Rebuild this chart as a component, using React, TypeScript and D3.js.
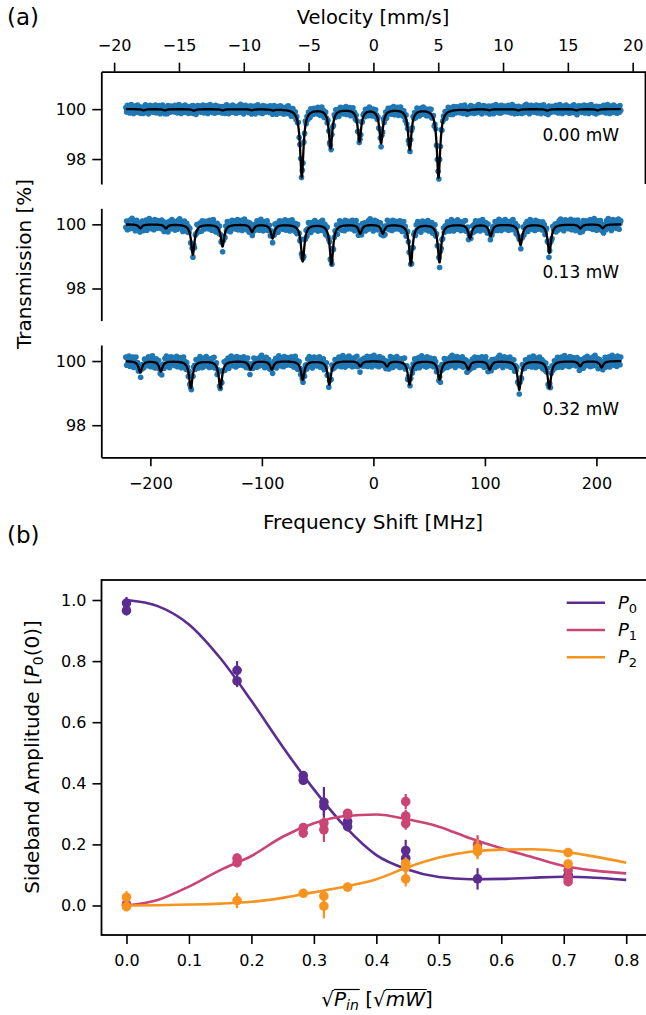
import React, { useEffect, useRef } from "react";
import * as d3 from "d3";

// ---------- panel (a): transmission spectra ----------
const powerLabels = ["0.00 mW", "0.13 mW", "0.32 mW"];

// dip centres [MHz] and depths [%]
const dips000Center = [-64.2, -38.4, -12.5, 6.9, 32.6, 58.4, -206, -187, -161, -135, -109, -90, 85, 104, 130, 156, 182, 201];
const dips000Depth = [2.72, 1.55, 1.28, 1.35, 1.62, 2.74, 0.05, 0.05, 0.06, 0.05, 0.04, 0.04, 0.04, 0.04, 0.05, 0.06, 0.05, 0.05];

const dips013Center = [-209, -186, -161.9, -135.3, -108.8, -90.4, -63.4, -37.6, -11.8, 8.5, 33.6, 59.3, 86.6, 105.1, 132, 157.8, 185.5, 205.7];
const dips013Depth = [0.12, 0.12, 0.94, 0.69, 0.23, 0.43, 1.15, 1.25, 0.28, 0.28, 1.25, 1.18, 0.43, 0.36, 0.64, 0.89, 0.12, 0.12];

const dips032Center = [-209, -190.6, -163.7, -137.2, -110.2, -91.1, -63.4, -39.5, -11.8, 12.2, 32.4, 59.3, 85.2, 104.3, 130.8, 157.8, 185.4, 204.6];
const dips032Depth = [0.35, 0.32, 0.84, 0.84, 0.26, 0.26, 0.58, 0.73, 0.16, 0.16, 0.73, 0.58, 0.26, 0.26, 0.89, 0.84, 0.16, 0.2];

const dipFwhm = 3.6; // MHz
const channelStart = -222;
const channelEnd = 222;
const channelStep = 0.7;

// scatter of the measured points about the fit [%]
const residuals = [0.07, -0.11, 0.16, -0.04, 0.12, -0.15, 0.03, 0.19, -0.08, 0.09, -0.17, 0.05, 0.13, -0.03, -0.12, 0.17, 0.01, -0.09, 0.11, -0.16, 0.08, 0.04, -0.13, 0.15, -0.05, 0.2, -0.11, 0.0, 0.12, -0.18, 0.07, 0.16, -0.07, -0.01, 0.13, -0.12, 0.09, -0.04, 0.17, -0.15, 0.03, 0.11, -0.08, 0.15, -0.17, 0.05, -0.03, 0.19, -0.09, 0.08, -0.13, 0.12, 0.04, -0.16, 0.16, -0.05, 0.01, -0.11, 0.13, -0.07, 0.09];

const freqTicks = [-200, -100, 0, 100, 200];
const velocityTicks = [-20, -15, -10, -5, 0, 5, 10, 15, 20];
const transTicks = [98, 100];
const mhzPerMmS = 11.6248;

// ---------- panel (b): sideband amplitudes ----------
const p0X = [0, 0, 0.177, 0.177, 0.283, 0.283, 0.316, 0.316, 0.354, 0.354, 0.447, 0.447, 0.562, 0.707, 0.707];
const p0Y = [0.99, 0.965, 0.77, 0.735, 0.425, 0.41, 0.338, 0.325, 0.275, 0.258, 0.18, 0.155, 0.087, 0.1, 0.095];
const p0Err = [0.02, 0.015, 0.03, 0.02, 0.015, 0.015, 0.05, 0.03, 0.015, 0.015, 0.035, 0.03, 0.035, 0.02, 0.02];

const p1X = [0, 0, 0.177, 0.177, 0.283, 0.283, 0.316, 0.316, 0.354, 0.354, 0.447, 0.447, 0.447, 0.562, 0.707, 0.707, 0.707];
const p1Y = [0.005, 0, 0.155, 0.14, 0.255, 0.237, 0.27, 0.248, 0.302, 0.296, 0.34, 0.293, 0.268, 0.2, 0.115, 0.09, 0.078];
const p1Err = [0.01, 0.01, 0.015, 0.015, 0.015, 0.015, 0.02, 0.04, 0.01, 0.01, 0.025, 0.02, 0.02, 0.03, 0.02, 0.015, 0.015];

const p2X = [0, 0, 0.177, 0.283, 0.316, 0.316, 0.354, 0.447, 0.447, 0.447, 0.562, 0.562, 0.707, 0.707];
const p2Y = [0.027, -0.004, 0.016, 0.04, 0.031, -0.002, 0.06, 0.138, 0.125, 0.087, 0.187, 0.176, 0.173, 0.136];
const p2Err = [0.02, 0.015, 0.025, 0.01, 0.02, 0.04, 0.01, 0.02, 0.02, 0.025, 0.03, 0.025, 0.01, 0.015];

// fitted curves read at these abscissae
const fitX = [0, 0.05, 0.1, 0.15, 0.2, 0.25, 0.3, 0.35, 0.4, 0.45, 0.5, 0.55, 0.6, 0.65, 0.7, 0.75, 0.8];
const p0Fit = [1.0, 0.98, 0.92, 0.81, 0.67, 0.52, 0.38, 0.258, 0.165, 0.118, 0.093, 0.086, 0.087, 0.091, 0.094, 0.091, 0.084];
const p1Fit = [0, 0.018, 0.062, 0.116, 0.162, 0.225, 0.269, 0.293, 0.298, 0.282, 0.258, 0.22, 0.187, 0.158, 0.129, 0.114, 0.105];
const p2Fit = [0, 0.001, 0.003, 0.006, 0.012, 0.025, 0.043, 0.062, 0.086, 0.125, 0.157, 0.176, 0.183, 0.184, 0.176, 0.16, 0.14];

const sqrtTicks = [0, 0.1, 0.2, 0.3, 0.4, 0.5, 0.6, 0.7, 0.8];
const ampTicks = [0, 0.2, 0.4, 0.6, 0.8, 1.0];

const seriesNames = ["0", "1", "2"];
const seriesColors = ["#5c2d91", "#cb4574", "#f7931f"];

const FONT = "DejaVu Sans";

const App = () => {
  const svgRef = useRef<SVGSVGElement>(null);

  useEffect(() => {
    const svg = d3.select(svgRef.current);
    svg.selectAll("*").remove();

    const styleAxis = (g: any, fontSize = 16) => {
      g.select(".domain").attr("stroke", "#000").attr("stroke-width", 1.8);
      g.selectAll(".tick line").attr("stroke", "#000").attr("stroke-width", 1.6);
      g.selectAll(".tick text").attr("fill", "#000").style("font-size", `${fontSize}px`).style("font-family", FONT);
    };

    // ===== panel (a) =====
    const aLeft = 101.3;
    const aRight = 645.5;
    const x = d3.scaleLinear().domain([-244, 244]).range([aLeft, aRight]);
    const panelTops = [71.7, 208.3, 345];
    const panelH = 112.3;
    const yDomains = [[97, 101.5], [97, 100.5], [97, 100.5]];
    const dipSets = [
      [dips000Center, dips000Depth],
      [dips013Center, dips013Depth],
      [dips032Center, dips032Depth],
    ];
    const hw = dipFwhm / 2;

    panelTops.forEach((top, k) => {
      const y = d3.scaleLinear().domain(yDomains[k]).range([top + panelH, top]);
      const [centers, depths] = dipSets[k];
      const model = (f: number) =>
        100 - d3.sum(centers, (c, i) => depths[i] / (1 + ((f - c) / hw) ** 2));

      const channels = d3.range(channelStart, channelEnd + 1e-6, channelStep);
      const pts = channels.map((f, i) => [f, model(f) + residuals[(i + k * 17) % residuals.length]]);
      const fine = d3.range(channelStart, channelEnd + 1e-6, 0.2).map((f) => [f, model(f)]);

      const g = svg.append("g");
      g.selectAll("circle")
        .data(pts)
        .join("circle")
        .attr("cx", (d) => x(d[0]))
        .attr("cy", (d) => y(d[1]))
        .attr("r", 2.8)
        .attr("fill", "#1f77b4");

      g.append("path")
        .datum(fine)
        .attr("fill", "none")
        .attr("stroke", "#000")
        .attr("stroke-width", 2.3)
        .attr("stroke-linejoin", "round")
        .attr("d", d3.line().x((d) => x(d[0])).y((d) => y(d[1])));

      const yAxis = svg
        .append("g")
        .attr("transform", `translate(${aLeft},0)`)
        .call(d3.axisLeft(y).tickValues(transTicks).tickSize(9).tickSizeOuter(0).tickPadding(6).tickFormat(d3.format("d")));
      styleAxis(yAxis);

      svg
        .append("text")
        .attr("x", 619)
        .attr("y", top + panelH * 0.62)
        .attr("text-anchor", "end")
        .style("font-family", FONT)
        .style("font-size", "17px")
        .text(powerLabels[k]);

      if (k === 0) {
        const v = d3.scaleLinear().domain([-244 / mhzPerMmS, 244 / mhzPerMmS]).range([aLeft, aRight]);
        const topAxis = svg
          .append("g")
          .attr("transform", `translate(0,${top})`)
          .call(d3.axisTop(v).tickValues(velocityTicks).tickSize(9).tickSizeOuter(0).tickPadding(12).tickFormat(d3.format("d")));
        styleAxis(topAxis);
        svg
          .append("line")
          .attr("x1", aRight)
          .attr("x2", aRight)
          .attr("y1", top)
          .attr("y2", top + panelH)
          .attr("stroke", "#000")
          .attr("stroke-width", 1.8);
      }
      if (k === 2) {
        const bottomAxis = svg
          .append("g")
          .attr("transform", `translate(0,${top + panelH})`)
          .call(d3.axisBottom(x).tickValues(freqTicks).tickSize(9).tickSizeOuter(0).tickPadding(11).tickFormat(d3.format("d")));
        styleAxis(bottomAxis);
      }
    });

    const label = (txt: string, xPos: number, yPos: number, size: number, anchor = "middle", rot = 0) =>
      svg
        .append("text")
        .attr("transform", `translate(${xPos},${yPos}) rotate(${rot})`)
        .attr("text-anchor", anchor)
        .style("font-family", FONT)
        .style("font-size", `${size}px`)
        .text(txt);

    label("(a)", 7, 25, 23, "start");
    label("(b)", 7, 543, 23, "start");
    label("Velocity [mm/s]", 373, 24, 19.5);
    label("Frequency Shift [MHz]", 373, 529, 20);
    label("Transmission [%]", 31, 264, 20, "middle", -90);

    // ===== panel (b) =====
    const bTop = 580;
    const bBottom = 935;
    const bLeft = 101.5;
    const bRight = 651.2;
    const xb = d3.scaleLinear().domain([-0.04, 0.84]).range([bLeft, bRight]);
    const yb = d3.scaleLinear().domain([-0.0966, 1.0655]).range([bBottom, bTop]);

    svg
      .append("rect")
      .attr("x", bLeft)
      .attr("y", bTop)
      .attr("width", bRight - bLeft)
      .attr("height", bBottom - bTop)
      .attr("fill", "none")
      .attr("stroke", "#000")
      .attr("stroke-width", 1.8);

    const xbAxis = svg
      .append("g")
      .attr("transform", `translate(0,${bBottom})`)
      .call(d3.axisBottom(xb).tickValues(sqrtTicks).tickSize(9).tickSizeOuter(0).tickPadding(11).tickFormat(d3.format(".1f")));
    styleAxis(xbAxis);
    xbAxis.select(".domain").remove();
    const ybAxis = svg
      .append("g")
      .attr("transform", `translate(${bLeft},0)`)
      .call(d3.axisLeft(yb).tickValues(ampTicks).tickSize(9).tickSizeOuter(0).tickPadding(6).tickFormat(d3.format(".1f")));
    styleAxis(ybAxis);
    ybAxis.select(".domain").remove();

    const series = [
      { xs: p0X, ys: p0Y, es: p0Err, fit: p0Fit },
      { xs: p1X, ys: p1Y, es: p1Err, fit: p1Fit },
      { xs: p2X, ys: p2Y, es: p2Err, fit: p2Fit },
    ];
    const fitLine = d3
      .line<number>()
      .x((_, i) => xb(fitX[i]))
      .y((d) => yb(d))
      .curve(d3.curveMonotoneX);

    series.forEach((s, k) => {
      const color = seriesColors[k];
      const g = svg.append("g");
      g.selectAll("line")
        .data(s.xs)
        .join("line")
        .attr("x1", (d) => xb(d))
        .attr("x2", (d) => xb(d))
        .attr("y1", (_, i) => yb(s.ys[i] - s.es[i]))
        .attr("y2", (_, i) => yb(s.ys[i] + s.es[i]))
        .attr("stroke", color)
        .attr("stroke-width", 2.2);
      g.selectAll("circle")
        .data(s.xs)
        .join("circle")
        .attr("cx", (d) => xb(d))
        .attr("cy", (_, i) => yb(s.ys[i]))
        .attr("r", 4.8)
        .attr("fill", color);
      g.append("path")
        .datum(s.fit)
        .attr("fill", "none")
        .attr("stroke", color)
        .attr("stroke-width", 2.6)
        .attr("d", fitLine);
    });

    // legend
    seriesNames.forEach((n, k) => {
      const ly = 602.7 + k * 27.3;
      svg
        .append("line")
        .attr("x1", 566.7)
        .attr("x2", 605)
        .attr("y1", ly)
        .attr("y2", ly)
        .attr("stroke", seriesColors[k])
        .attr("stroke-width", 2.6);
      const t = svg
        .append("text")
        .attr("x", 618)
        .attr("y", ly + 6)
        .style("font-family", FONT)
        .style("font-size", "18px");
      t.append("tspan").style("font-style", "italic").text("P");
      t.append("tspan").attr("dy", 4).style("font-size", "13px").text(n);
    });

    // axis labels of (b)
    const yl = svg
      .append("text")
      .attr("transform", `translate(39,757) rotate(-90)`)
      .attr("text-anchor", "middle")
      .style("font-family", FONT)
      .style("font-size", "20px");
    yl.append("tspan").text("Sideband Amplitude [");
    yl.append("tspan").style("font-style", "italic").text("P");
    yl.append("tspan").attr("dy", 4).style("font-size", "14px").text("0");
    yl.append("tspan").attr("dy", -4).text("(0)]");

    const xlY = 1006;
    const xl = svg
      .append("text")
      .attr("x", 377)
      .attr("y", xlY)
      .attr("text-anchor", "middle")
      .style("font-family", FONT)
      .style("font-size", "20px");
    const r1 = xl.append("tspan").text("√");
    xl.append("tspan").style("font-style", "italic").text("P");
    const sub = xl.append("tspan").attr("dy", 4).style("font-style", "italic").style("font-size", "14px").text("in");
    xl.append("tspan").attr("dy", -4).text(" [");
    const r2 = xl.append("tspan").text("√");
    const mw = xl.append("tspan").style("font-style", "italic").text("mW");
    xl.append("tspan").text("]");

    // radical bars over the radicands
    const bb = (s: any) => (s.node() as SVGGraphicsElement).getBBox();
    const b1 = bb(r1);
    const b1e = bb(sub);
    const b2 = bb(r2);
    const b2e = bb(mw);
    const barY = b1.y + 2.5;
    [[b1.x + b1.width - 0.5, b1e.x + b1e.width + 1], [b2.x + b2.width - 0.5, b2e.x + b2e.width + 0.5]].forEach(([x1, x2]) =>
      svg
        .append("line")
        .attr("x1", x1)
        .attr("x2", x2)
        .attr("y1", barY)
        .attr("y2", barY)
        .attr("stroke", "#000")
        .attr("stroke-width", 1.2)
    );
  }, []);

  return (
    <div style={{ position: "absolute", left: 0, top: 0 }}>
      <svg ref={svgRef} width={646} height={1015} style={{ display: "block", background: "#fff" }} />
    </div>
  );
};

export default App;
